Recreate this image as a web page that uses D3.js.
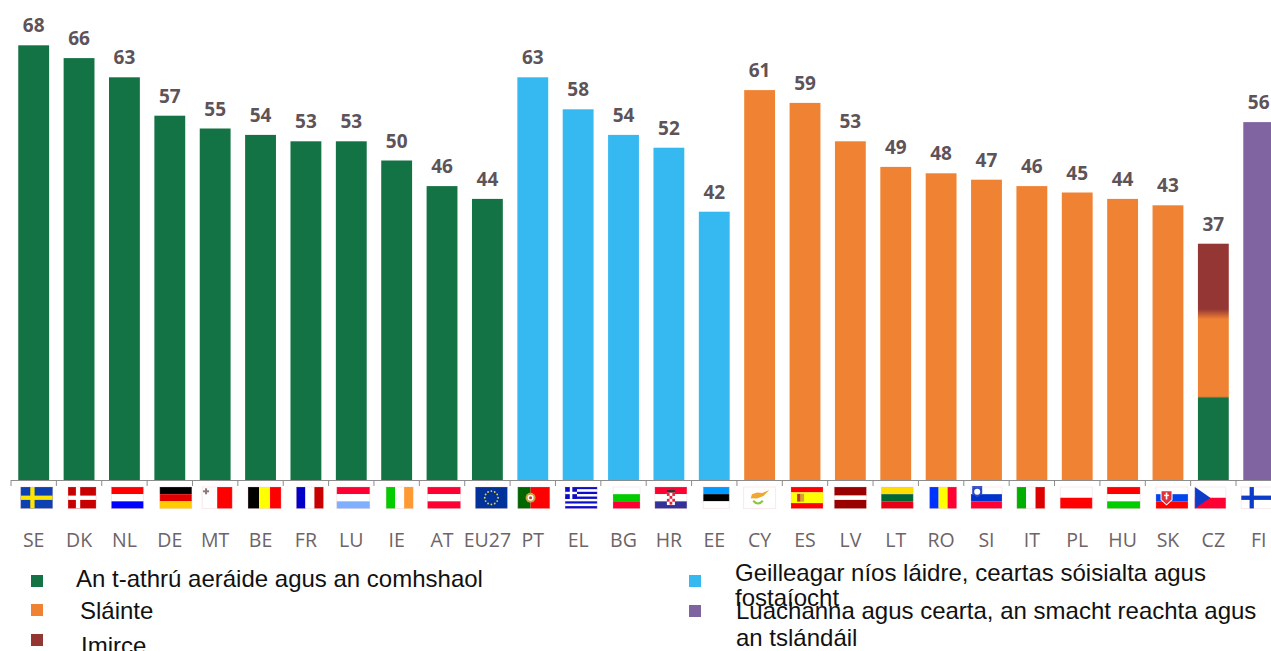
<!DOCTYPE html>
<html>
<head>
<meta charset="utf-8">
<script src="https://cdnjs.cloudflare.com/ajax/libs/d3/7.8.5/d3.min.js"></script>
<style>
    html, body { margin: 0; padding: 0; background: #fff; overflow: hidden; }
    svg { display: block; }
    .value { font: 700 19px "Open Sans", sans-serif; fill: #5d5359; text-anchor: middle; }
    .code text { font: 400 19.5px "Open Sans", sans-serif; fill: #6d6368; }
    .legend text { font: 400 24px "Liberation Sans", sans-serif; fill: #111; }
</style>
</head>
<body>
<svg width="1271" height="651"></svg>
<script>
const categories = ['SE', 'DK', 'NL', 'DE', 'MT', 'BE', 'FR', 'LU', 'IE', 'AT', 'EU27', 'PT', 'EL', 'BG', 'HR', 'EE',
    'CY', 'ES', 'LV', 'LT', 'RO', 'SI', 'IT', 'PL', 'HU', 'SK', 'CZ', 'FI'];
const values = [68, 66, 63, 57, 55, 54, 53, 53, 50, 46, 44, 63, 58, 54, 52, 42,
    61, 59, 53, 49, 48, 47, 46, 45, 44, 43, 37, 56];
const barThemes = ['climate', 'climate', 'climate', 'climate', 'climate', 'climate', 'climate', 'climate', 'climate', 'climate', 'climate',
    'economy', 'economy', 'economy', 'economy', 'economy',
    'health', 'health', 'health', 'health', 'health', 'health', 'health', 'health', 'health', 'health',
    'tied', 'values'];
// CZ is a three way tie, the bar is split from the bottom up
const tiedThemes = ['climate', 'health', 'migration'];
const tiedValues = [13, 13, 11];

const themeNames = ['climate', 'health', 'migration', 'economy', 'values'];
const themeLabels = [
    ['An t-athrú aeráide agus an comhshaol'],
    ['Sláinte'],
    ['Imirce'],
    ['Geilleagar níos láidre, ceartas sóisialta agus', 'fostaíocht'],
    ['Luachanna agus cearta, an smacht reachta agus', 'an tslándáil'],
];

const colour = d3.scaleOrdinal()
    .domain(themeNames)
    .range(['#147345', '#f08233', '#943634', '#36b8f1', '#8064a2']);

const svg = d3.select('svg');

const baseY = 480;

const xScale = d3.scaleBand()
    .domain(categories)
    .range([11, 1281.4])
    .paddingInner(0.32)
    .paddingOuter(0.16);

const yScale = d3.scaleLinear()
    .domain([0, 75])
    .range([baseY + 0.5, 0.5]);

const defs = svg.append('defs');

// the flags are small bitmaps in the original, so soften them a bit
defs.append('filter')
    .attr('id', 'soft')
    .append('feGaussianBlur')
    .attr('stdDeviation', 0.35);

// gradient for the split CZ bar, the source picture blurs where the colours meet
const tiedTops = d3.cumsum(tiedValues);
const blur = [1, 5];
const gradient = defs.append('linearGradient')
    .attr('id', 'tied')
    .attr('gradientUnits', 'userSpaceOnUse')
    .attr('x1', 0).attr('x2', 0)
    .attr('y1', yScale(0)).attr('y2', yScale(tiedTops[2]));

const tiedLength = yScale(0) - yScale(tiedTops[2]);
const stopAt = (y) => (yScale(0) - y) / tiedLength;
const tiedStops = [
    [0, tiedThemes[0]],
    [stopAt(yScale(tiedTops[0]) + blur[0]), tiedThemes[0]],
    [stopAt(yScale(tiedTops[0]) - blur[0]), tiedThemes[1]],
    [stopAt(yScale(tiedTops[1]) + blur[1]), tiedThemes[1]],
    [stopAt(yScale(tiedTops[1]) - blur[1]), tiedThemes[2]],
    [1, tiedThemes[2]],
];
gradient.selectAll('stop')
    .data(tiedStops)
    .enter()
    .append('stop')
    .attr('offset', (d) => d[0])
    .attr('stop-color', (d) => colour(d[1]));

// bars

svg.append('g')
    .selectAll('rect')
    .data(categories)
    .enter()
    .append('rect')
    .attr('x', (d) => xScale(d))
    .attr('y', (d, i) => yScale(values[i]))
    .attr('width', xScale.bandwidth())
    .attr('height', (d, i) => baseY - yScale(values[i]))
    .attr('fill', (d, i) => barThemes[i] === 'tied' ? 'url(#tied)' : colour(barThemes[i]));

svg.append('g')
    .selectAll('text')
    .data(categories)
    .enter()
    .append('text')
    .attr('class', 'value')
    .attr('x', (d) => xScale(d) + xScale.bandwidth() / 2)
    .attr('y', (d, i) => yScale(values[i]) - 13)
    .text((d, i) => values[i]);

// axis, ticks sit between the bars so they are drawn by hand

const step = xScale.step();
const tickEdges = categories.map((d) => xScale(d) - step * xScale.paddingInner() / 2);

const axisLine = svg.append('g').attr('stroke', '#8c8c8c').attr('stroke-width', 1);
axisLine.append('line')
    .attr('x1', tickEdges[0]).attr('x2', 1271)
    .attr('y1', baseY + 0.5).attr('y2', baseY + 0.5);
axisLine.selectAll('.tick')
    .data(tickEdges)
    .enter()
    .append('line')
    .attr('x1', (d) => d).attr('x2', (d) => d)
    .attr('y1', baseY).attr('y2', baseY + 6);

svg.append('g')
    .attr('class', 'code')
    .attr('transform', `translate(0, ${baseY})`)
    .call(d3.axisBottom(xScale).tickSize(0).tickPadding(53))
    .call((g) => g.select('.domain').remove());

// flags

const addRect = (g, fill, x, y, w, h) => g.append('rect')
    .attr('fill', fill).attr('x', x).attr('y', y).attr('width', w).attr('height', h);
const addDot = (g, fill, x, y, r) => g.append('circle')
    .attr('fill', fill).attr('cx', x).attr('cy', y).attr('r', r);

const emblems = {
    MT: (g, w, h) => {
        addRect(g, '#8a7a7a', w * 0.13 - 3, h * 0.2 - 1, 6, 2);
        addRect(g, '#8a7a7a', w * 0.13 - 1, h * 0.2 - 3, 2, 6);
    },
    PT: (g, w, h) => {
        addDot(g, '#c9a23a', w * 0.4, h * 0.5, 5);
        addDot(g, '#fff', w * 0.4, h * 0.5, 3);
        addDot(g, '#c04040', w * 0.4, h * 0.5, 1.6);
    },
    HR: (g, w, h) => {
        addRect(g, '#fff', w * 0.5 - 4, h * 0.26, 8, h * 0.58);
        d3.range(4).forEach((r) => d3.range(3).forEach((c) => {
            if ((r + c) % 2 === 0) addRect(g, '#e0283c', w * 0.5 - 4 + c * 2.7, h * 0.28 + r * 2.9, 2.7, 2.9);
        }));
        addRect(g, '#333', w * 0.5 - 4, h * 0.14, 8, 2.4);
    },
    ES: (g, w, h) => {
        addRect(g, '#c0392b', w * 0.3 - 3.5, h * 0.32, 3.5, h * 0.36);
        addRect(g, '#d8a040', w * 0.3, h * 0.32, 3.5, h * 0.36);
    },
    SI: (g, w, h) => {
        g.append('path').attr('fill', '#2a4ac8')
            .attr('d', `M${w * 0.2 - 5},${-1}h10v${h * 0.36}l-5,${h * 0.16}l-5,${-h * 0.16}z`);
        addDot(g, '#fff', w * 0.2, h * 0.22, 3);
    },
    SK: (g, w, h) => {
        g.append('path').attr('fill', '#fff')
            .attr('d', `M${w * 0.33 - 6},${h * 0.16}h12v${h * 0.44}l-6,${h * 0.26}l-6,${-h * 0.26}z`);
        g.append('path').attr('fill', '#e0303a')
            .attr('d', `M${w * 0.33 - 5},${h * 0.2}h10v${h * 0.38}l-5,${h * 0.22}l-5,${-h * 0.22}z`);
        addRect(g, '#fff', w * 0.33 - 0.8, h * 0.26, 1.6, h * 0.32);
        addRect(g, '#fff', w * 0.33 - 2.5, h * 0.36, 5, 1.4);
    },
    CY: (g, w, h) => {
        g.append('path').attr('fill', '#f0a830')
            .attr('d', `M${w * 0.22},${h * 0.52}L${w * 0.26},${h * 0.34}L${w * 0.42},${h * 0.26}L${w * 0.58},${h * 0.28}L${w * 0.8},${h * 0.14}L${w * 0.62},${h * 0.42}L${w * 0.42},${h * 0.54}Z`);
        g.append('path').attr('fill', 'none').attr('stroke', '#8cc63f').attr('stroke-width', 2)
            .attr('d', `M${w * 0.3},${h * 0.64}Q${w * 0.45},${h * 0.9} ${w * 0.6},${h * 0.64}`);
    },
    CZ: (g, w, h) => {
        g.append('path').attr('fill', '#0a3cc8').attr('d', `M0,0L${w * 0.5},${h / 2}L0,${h}Z`);
    },
    EL: (g, w, h) => {
        addRect(g, '#0a0ac8', 0, 0, w * 0.37, h * 5 / 9);
        addRect(g, '#fff', w * 0.145, 0, w * 0.08, h * 5 / 9);
        addRect(g, '#fff', 0, h * 2 / 9, w * 0.37, h / 9);
    },
    EU27: (g, w, h) => {
        d3.range(12).forEach((i) => {
            const a = i / 12 * 2 * Math.PI;
            addDot(g, '#e8d44a', w / 2 + Math.cos(a) * h * 0.31, h / 2 + Math.sin(a) * h * 0.31, 0.9);
        });
    },
};

// bands go across (h) or down (v), edges are fractions of the flag
const flagSpecs = {
    SE: { dir: 'h', bands: ['#0a3fb0'], cross: ['#ffe600', 0.3] },
    DK: { dir: 'h', bands: ['#c80000'], cross: ['#ffffff', 0.28] },
    NL: { dir: 'h', bands: ['#ff0000', '#ffffff', '#0000ff'] },
    DE: { dir: 'h', bands: ['#000000', '#e00000', '#ffcc00'] },
    MT: { dir: 'v', bands: ['#ffffff', '#ff0000'] },
    BE: { dir: 'v', bands: ['#000000', '#ffff00', '#ff0000'] },
    FR: { dir: 'v', bands: ['#0000c8', '#ffffff', '#c80000'] },
    LU: { dir: 'h', bands: ['#ff0033', '#ffffff', '#7fb0ff'] },
    IE: { dir: 'v', bands: ['#00cc00', '#ffffff', '#ff9933'] },
    AT: { dir: 'h', bands: ['#ff0033', '#ffffff', '#ff0033'] },
    EU27: { dir: 'h', bands: ['#003399'] },
    PT: { dir: 'v', bands: ['#006600', '#ff0000'], edges: [0, 0.4, 1] },
    EL: { dir: 'h', bands: ['#0a0ac8', '#fff', '#0a0ac8', '#fff', '#0a0ac8', '#fff', '#0a0ac8', '#fff', '#0a0ac8'] },
    BG: { dir: 'h', bands: ['#ffffff', '#00cc00', '#ff0033'] },
    HR: { dir: 'h', bands: ['#ff0033', '#ffffff', '#333399'] },
    EE: { dir: 'h', bands: ['#0099ff', '#000000', '#ffffff'] },
    CY: { dir: 'h', bands: ['#ffffff'] },
    ES: { dir: 'h', bands: ['#ff0000', '#ffff00', '#ff0000'], edges: [0, 0.25, 0.75, 1] },
    LV: { dir: 'h', bands: ['#990000', '#ffffff', '#990000'], edges: [0, 0.4, 0.6, 1] },
    LT: { dir: 'h', bands: ['#ffdd00', '#006633', '#e60012'] },
    RO: { dir: 'v', bands: ['#0033ff', '#ffff00', '#ff0033'] },
    SI: { dir: 'h', bands: ['#ffffff', '#0033cc', '#ff0033'] },
    IT: { dir: 'v', bands: ['#00b000', '#ffffff', '#dd0000'] },
    PL: { dir: 'h', bands: ['#ffffff', '#ff0000'] },
    HU: { dir: 'h', bands: ['#ff0000', '#ffffff', '#00cc00'] },
    SK: { dir: 'h', bands: ['#ffffff', '#0044ee', '#ff0000'] },
    CZ: { dir: 'h', bands: ['#ffffff', '#ff0033'] },
    FI: { dir: 'h', bands: ['#ffffff'], cross: ['#0a3cc8', 0.27] },
};
// the flag pictures are not quite centred under the bars in the original
const flagNudge = [3, 3, 3, 6, 2, 4, 4, 2, 3, 2, 4, 1, 3, 3, 2, 2, 0, 2, 0, 1.5, 2, 0, -1, -1, 1, 4, -3, -2];
const flagWidth = [32, 28, 32, 32, 30, 33, 27, 33, 27, 33, 32, 32, 32, 27, 32, 26, 32, 32, 32, 32, 27, 31, 28, 32, 33, 32, 31, 31];
const flagTop = 487;
const flagHeight = 21.5;

const drawFlag = (g, code, w, h) => {
    const spec = flagSpecs[code];
    const n = spec.bands.length;
    const edges = spec.edges || d3.range(n + 1).map((i) => i / n);
    spec.bands.forEach((c, i) => {
        const from = edges[i];
        const to = edges[i + 1];
        if (spec.dir === 'h') {
            addRect(g, c, 0, from * h, w, (to - from) * h);
        } else {
            addRect(g, c, from * w, 0, (to - from) * w, h);
        }
    });
    if (spec.cross) {
        const t = h * 0.2;
        addRect(g, spec.cross[0], 0, (h - t) / 2, w, t);
        addRect(g, spec.cross[0], w * spec.cross[1], 0, t, h);
    }
    if (emblems[code]) emblems[code](g, w, h);
    g.append('rect').attr('width', w).attr('height', h)
        .attr('fill', 'none').attr('stroke', '#e8a8b0').attr('stroke-opacity', 0.25);
};

svg.append('g')
    .attr('filter', 'url(#soft)')
    .selectAll('g')
    .data(categories)
    .enter()
    .append('g')
    .attr('transform', (d, i) => `translate(${xScale(d) + xScale.bandwidth() / 2 + flagNudge[i] - flagWidth[i] / 2}, ${flagTop})`)
    .each(function (d, i) {
        drawFlag(d3.select(this), d, flagWidth[i], flagHeight);
    });

// legend, placed by hand like the pasted text boxes in the original

const legendSpots = {
    climate: { mx: 31, my: 575, tx: 76, ty: 587, lead: 0 },
    health: { mx: 31, my: 604, tx: 80, ty: 619, lead: 0 },
    migration: { mx: 31, my: 634, tx: 81, ty: 654, lead: 0 },
    economy: { mx: 689, my: 575, tx: 735, ty: 581, lead: 25 },
    values: { mx: 689, my: 605, tx: 736, ty: 619, lead: 27 },
};

const legend = svg.append('g')
    .attr('class', 'legend')
    .selectAll('g')
    .data(themeNames)
    .enter()
    .append('g');

legend.append('rect')
    .attr('x', (d) => legendSpots[d].mx)
    .attr('y', (d) => legendSpots[d].my)
    .attr('width', 12)
    .attr('height', 12)
    .attr('fill', (d) => colour(d));

legend.each(function (d, i) {
    const spot = legendSpots[d];
    d3.select(this).selectAll('text')
        .data(themeLabels[i])
        .enter()
        .append('text')
        .attr('x', spot.tx)
        .attr('y', (t, j) => spot.ty + j * spot.lead)
        .text((t) => t);
});
</script>
</body>
</html>
